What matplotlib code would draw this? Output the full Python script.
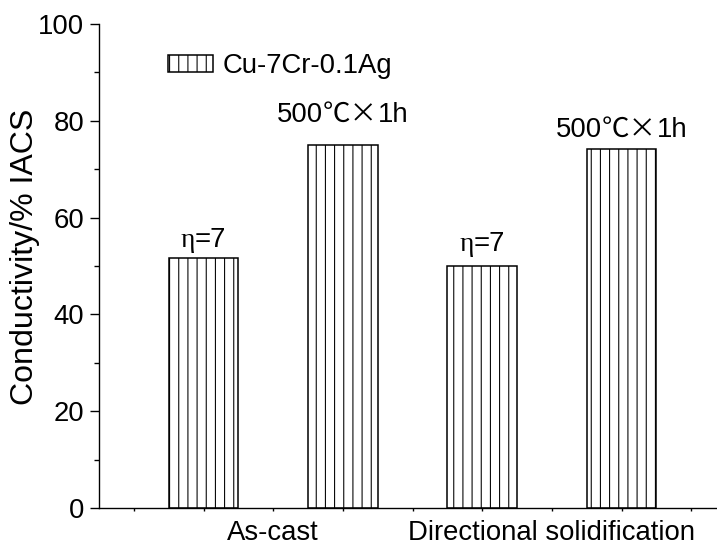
import matplotlib
matplotlib.use("Agg")
import matplotlib.pyplot as plt
import matplotlib.ticker as mticker
from matplotlib.patches import Patch
from matplotlib.offsetbox import TextArea, HPacker, AnnotationBbox

# ── Data ──────────────────────────────────────────────────────
bar_pos      = [1, 2, 3, 4]
conductivity = [51.6, 75.0, 50.0, 74.2]
# each label is a list of (text, font family) pieces
bar_labels   = [
    [("η", "Liberation Serif"), ("=7", "Liberation Sans")],
    [("500", "Liberation Sans"), ("℃×", "Noto Sans CJK SC"), ("1h", "Liberation Sans")],
    [("η", "Liberation Serif"), ("=7", "Liberation Sans")],
    [("500", "Liberation Sans"), ("℃×", "Noto Sans CJK SC"), ("1h", "Liberation Sans")],
]
label_offset = [1.0, 3.6, 1.8, 1.3]
group_pos    = [1.5, 3.5]
group_names  = ["As-cast", "Directional solidification"]
series_name  = "Cu-7Cr-0.1Ag"

# ── Style ─────────────────────────────────────────────────────
DPI = 110
FS  = 18
plt.rcParams.update({
    "font.family":     ["Liberation Sans", "Noto Sans CJK SC"],
    "font.size":       FS,
    "hatch.linewidth": 0.7,
    "axes.linewidth":  0.9,
})

fig = plt.figure(figsize=(717 / DPI, 549 / DPI), dpi=DPI)
ax = fig.add_axes([99 / 717, 41 / 549, 627 / 717, 484 / 549])

ax.bar(bar_pos, conductivity, width=0.5, color="white",
       edgecolor="black", linewidth=1.0, hatch="||")

for x, y, pieces, off in zip(bar_pos, conductivity, bar_labels, label_offset):
    parts = [TextArea(t, textprops=dict(family=f, fontsize=FS)) for t, f in pieces]
    box = HPacker(children=parts, align="baseline", pad=0, sep=0)
    ab = AnnotationBbox(box, (x, y + off), xycoords="data",
                        box_alignment=(0.5, 0), frameon=False, pad=0)
    ax.add_artist(ab)

ax.set_xlim(0.25, 4.75)
ax.set_ylim(0, 100)

ax.spines["top"].set_visible(False)
ax.spines["right"].set_visible(False)

ax.yaxis.set_major_locator(mticker.MultipleLocator(20))
ax.yaxis.set_minor_locator(mticker.MultipleLocator(10))
ax.tick_params(axis="y", which="major", direction="out", length=6, width=0.9)
ax.tick_params(axis="y", which="minor", direction="out", length=3.5, width=0.9)

ax.set_xticks(group_pos)
ax.set_xticklabels(group_names)
ax.xaxis.set_minor_locator(mticker.MultipleLocator(0.5))
ax.tick_params(axis="x", which="both", direction="out", length=2, width=0.9, pad=6)

ax.set_ylabel("Conductivity/% IACS", fontsize=21)
ax.yaxis.set_label_coords(-0.094, 0.52)

handle = Patch(facecolor="white", edgecolor="black", hatch="||", linewidth=1.0)
ax.legend([handle], [series_name], loc="center left",
          bbox_to_anchor=(0.088, 0.913), frameon=False, borderpad=0,
          handlelength=1.64, handleheight=0.6, handletextpad=0.36,
          fontsize=FS)

fig.savefig("out.png", dpi=DPI)
